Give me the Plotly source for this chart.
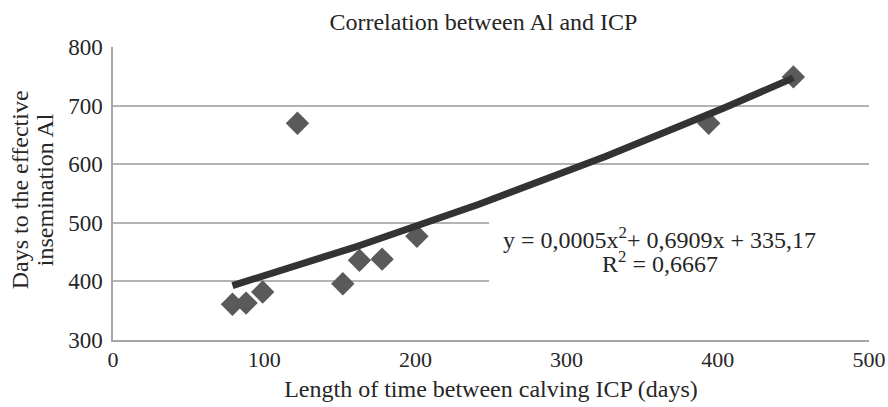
import numpy as np
import plotly.graph_objects as go

# Data
icp_days = [79, 88, 99, 122, 152, 163, 178, 201, 394, 450]
ai_days = [361, 363, 382, 670, 396, 436, 438, 477, 670, 749]

# Polynomial trendline coefficients (as printed on the chart)
coef_a = 0.0005
coef_b = 0.6909
coef_c = 335.17
eq_line1 = "y = 0,0005x<sup>2</sup>+ 0,6909x + 335,17"
eq_line2 = "R<sup>2</sup> = 0,6667"

x_ticks = [0, 100, 200, 300, 400, 500]
y_ticks = [300, 400, 500, 600, 700, 800]

title_text = "Correlation between Al and ICP"
x_title = "Length of time between calving ICP (days)"
y_title_lines = ["Days to the effective", "insemination Al"]

FONT = "Liberation Serif, Times New Roman, serif"
TXT = "#262626"

tx = np.linspace(min(icp_days), max(icp_days), 120)
ty = coef_a * tx**2 + coef_b * tx + coef_c

fig = go.Figure()
fig.add_trace(go.Scatter(
    x=icp_days, y=ai_days, mode="markers",
    marker=dict(symbol="diamond", size=18, color="#5a5a5a", line=dict(width=0)),
    showlegend=False, hoverinfo="x+y"))
fig.add_trace(go.Scatter(
    x=tx, y=ty, mode="lines",
    line=dict(color="#333333", width=7),
    showlegend=False, hoverinfo="skip"))

# white label box behind the equation (hides gridlines, as in the reference)
fig.add_annotation(xref="paper", yref="paper", x=1.0, xanchor="right", y=0.30, yanchor="middle",
                   text=" ", showarrow=False, bgcolor="white", width=380, height=72,
                   borderpad=0, borderwidth=0)
fig.add_annotation(x=361.5, y=474, xref="x", yref="y", text=eq_line1, showarrow=False,
                   font=dict(family=FONT, size=24, color=TXT))
fig.add_annotation(x=361.5, y=433, xref="x", yref="y", text=eq_line2, showarrow=False,
                   font=dict(family=FONT, size=24, color=TXT))

# two-line y axis title
for xp, line in zip([-0.1227, -0.0897], y_title_lines):
    fig.add_annotation(xref="paper", yref="paper", x=xp, y=0.512, text=line,
                       xanchor="center", yanchor="middle",
                       textangle=-90, showarrow=False,
                       font=dict(family=FONT, size=24, color=TXT))

fig.update_layout(
    width=888, height=407,
    margin=dict(l=113, r=19, t=47, b=67, autoexpand=False),
    paper_bgcolor="white", plot_bgcolor="white",
    font=dict(family=FONT, size=23, color=TXT),
    title=dict(text=title_text, x=0.49, xref="paper", y=0.946, yanchor="middle",
               font=dict(family=FONT, size=24, color=TXT)),
    xaxis=dict(range=[0, 500], tickvals=x_ticks, showgrid=False, zeroline=False,
               showline=True, linecolor="#a6a6a6", linewidth=1.5, ticks="",
               tickfont=dict(size=22), automargin=False, ticklabeloverflow="allow",
               ticklabelstandoff=-1,
               title=dict(text=x_title, font=dict(size=24), standoff=9)),
    yaxis=dict(range=[300, 800], tickvals=y_ticks, showgrid=True, gridcolor="#b3b3b3",
               gridwidth=1.5, zeroline=False, showline=True, linecolor="#a6a6a6",
               linewidth=1.5, ticks="", tickfont=dict(size=23), automargin=False,
               ticklabelstandoff=4),
)

fig.write_html("out.html", config={"displayModeBar": False},
               post_script="document.body.style.margin='0';")
